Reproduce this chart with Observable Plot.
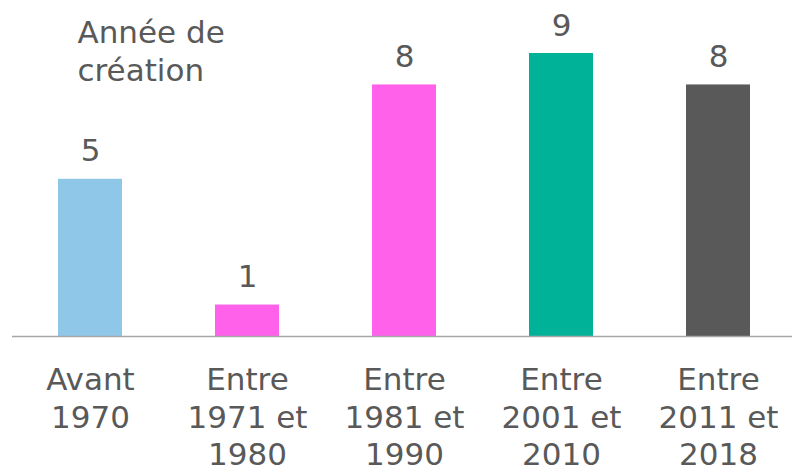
<!DOCTYPE html>
<html>
<head>
<meta charset="utf-8">
<script src="https://cdn.jsdelivr.net/npm/d3@7"></script>
<script src="https://cdn.jsdelivr.net/npm/@observablehq/plot@0.6"></script>
<style>
  html, body { margin: 0; padding: 0; background: #fff; }
  svg { font-family: "DejaVu Sans", Verdana, sans-serif; }
</style>
</head>
<body>
<div id="chart"></div>
<script>
const categories = ["Avant 1970", "Entre 1971 et 1980", "Entre 1981 et 1990", "Entre 2001 et 2010", "Entre 2011 et 2018"];
const tickLabels = ["Avant\n1970", "Entre\n1971 et\n1980", "Entre\n1981 et\n1990", "Entre\n2001 et\n2010", "Entre\n2011 et\n2018"];
const values = [5, 1, 8, 9, 8];
const colors = ["#8ec7e8", "#ff61eb", "#ff61eb", "#00b398", "#595959"];
const title = "Année de\ncréation";

const data = categories.map((c, i) => ({cat: c, value: values[i], label: tickLabels[i], color: colors[i]}));
const textColor = "#595959";

const chart = Plot.plot({
  width: 792,
  height: 469,
  marginTop: 0, marginBottom: 0, marginLeft: 12, marginRight: 0,
  style: {fontFamily: "DejaVu Sans, Verdana, sans-serif", background: "#fff"},
  x: {type: "band", domain: categories, range: [12, 797], paddingInner: 0.592, paddingOuter: 0.296, axis: null},
  y: {domain: [0, 9], range: [336, 53], axis: null},
  marks: [
    Plot.barY(data, {x: "cat", y: "value", fill: "color"}),
    Plot.ruleY([0], {stroke: "#a6a6a6", strokeWidth: 1.5}),
    Plot.text(data, {x: "cat", y: "value", text: d => String(d.value), lineAnchor: "bottom", dy: -18, fontSize: 31, fill: textColor}),
    Plot.text(data, {x: "cat", y: () => 0, text: "label", lineAnchor: "top", dy: 27, fontSize: 31, lineHeight: 1.21, fill: textColor}),
    Plot.text([title], {frameAnchor: "top-left", text: d => d, textAnchor: "start", lineAnchor: "top", dx: 65, dy: 16, fontSize: 31, lineHeight: 1.226, fill: textColor})
  ]
});
document.getElementById("chart").appendChild(chart);
</script>
</body>
</html>
